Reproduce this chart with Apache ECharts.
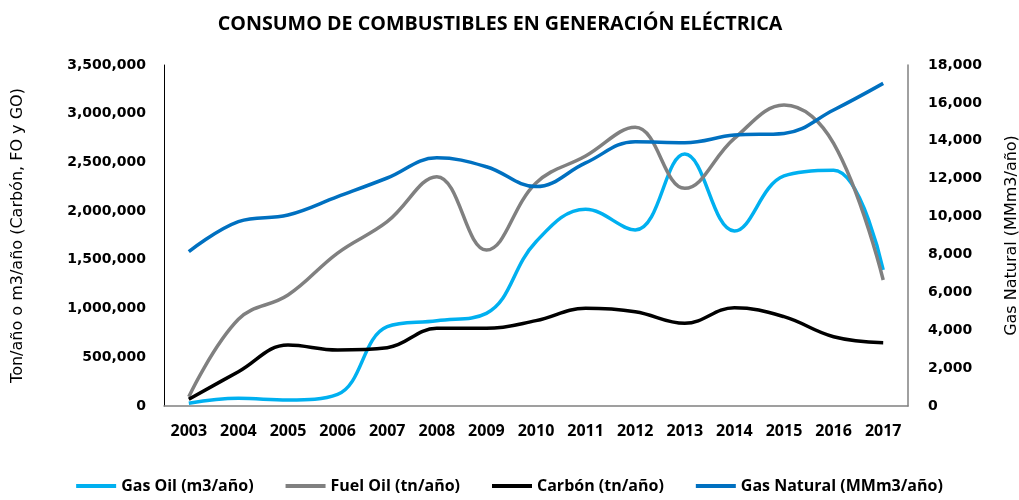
<!DOCTYPE html>
<html><head><meta charset="utf-8">
<script src="https://cdn.jsdelivr.net/npm/echarts@6/dist/echarts.min.js"></script>
<style>html,body{margin:0;padding:0;background:#fff}#c{width:1019px;height:500px}</style>
</head><body><div id="c"></div>
<script>
const years = ['2003','2004','2005','2006','2007','2008','2009','2010','2011','2012','2013','2014','2015','2016','2017'];
const gasOil = [28000, 79000, 62000, 120000, 814000, 875000, 951000, 1686000, 2019000, 1806000, 2586000, 1796000, 2361000, 2420000, 1396000];
const fuelOil = [95000, 890000, 1139000, 1570000, 1892000, 2354000, 1601000, 2289000, 2566000, 2860000, 2234000, 2747000, 3089000, 2696000, 1293000];
const carbon = [69000, 352000, 626000, 575000, 598000, 797000, 797000, 876000, 1003000, 968000, 849000, 1009000, 917000, 711000, 650000];
const gasNatural = [8145, 9730, 10080, 11050, 12035, 13100, 12630, 11580, 12830, 13950, 13900, 14300, 14390, 15625, 17030];
const seriesNames = ['Gas Oil (m3/año)', 'Fuel Oil (tn/año)', 'Carbón (tn/año)', 'Gas Natural (MMm3/año)'];
const colors = ['#00B0F0', '#808080', '#000000', '#0070C0'];

const narrow = '"Open Sans", sans-serif';
const chart = echarts.init(document.getElementById('c'));
const fmt = v => v.toLocaleString('en-US');
function line(name, data, color, axis) {
  return { name, type: 'line', data, yAxisIndex: axis, smooth: 0.4, showSymbol: false, symbol: 'none',
    lineStyle: { color, width: 3.5 }, itemStyle: { color }, z: axis === 1 ? 3 : 2 };
}
chart.setOption({
  animation: false,
  title: { text: 'CONSUMO DE COMBUSTIBLES EN GENERACIÓN ELÉCTRICA', left: 495, top: 9, textAlign: 'center',
    textStyle: { fontFamily: narrow, fontWeight: 'bold', fontSize: 19.7, color: '#000' } },
  grid: { left: 164, right: 111, top: 65, bottom: 94, outerBoundsMode: 'none', containLabel: false },
  legend: { bottom: 1, left: 'center', itemWidth: 40, itemHeight: 4, itemGap: 32,
    textStyle: { fontFamily: narrow, fontWeight: 'bold', fontSize: 16, color: '#000' },
    data: seriesNames.map((n, i) => ({ name: n, icon: 'rect', itemStyle: { color: colors[i] } })) },
  xAxis: { type: 'category', data: years, boundaryGap: true,
    axisLine: { lineStyle: { color: '#808080', width: 1.5 } }, axisTick: { show: false },
    axisLabel: { fontFamily: narrow, fontWeight: 'bold', fontSize: 16, color: '#000', margin: 17 } },
  yAxis: [
    { type: 'value', min: 0, max: 3500000, interval: 500000, splitLine: { show: false },
      axisLine: { show: true, lineStyle: { color: '#000', width: 1 } }, axisTick: { show: false },
      axisLabel: { formatter: fmt, fontFamily: 'DejaVu Sans', fontWeight: 'bold', fontSize: 14, color: '#000', margin: 18 },
      name: 'Ton/año o m3/año (Carbón, FO y GO)', nameLocation: 'middle', nameGap: 138, nameRotate: 90,
      nameTextStyle: { fontFamily: 'DejaVu Sans', fontSize: 16, color: '#000' } },
    { type: 'value', min: 0, max: 18000, interval: 2000, splitLine: { show: false },
      axisLine: { show: true, lineStyle: { color: '#808080', width: 1.5 } }, axisTick: { show: false },
      axisLabel: { formatter: fmt, fontFamily: 'DejaVu Sans', fontWeight: 'bold', fontSize: 14, color: '#000', margin: 20 },
      name: 'Gas Natural (MMm3/año)', nameLocation: 'middle', nameGap: 96, nameRotate: 90,
      nameTextStyle: { fontFamily: 'DejaVu Sans', fontSize: 16, color: '#000' } }
  ],
  series: [
    line(seriesNames[0], gasOil, colors[0], 0),
    line(seriesNames[1], fuelOil, colors[1], 0),
    line(seriesNames[2], carbon, colors[2], 0),
    line(seriesNames[3], gasNatural, colors[3], 1)
  ]
});
</script></body></html>
